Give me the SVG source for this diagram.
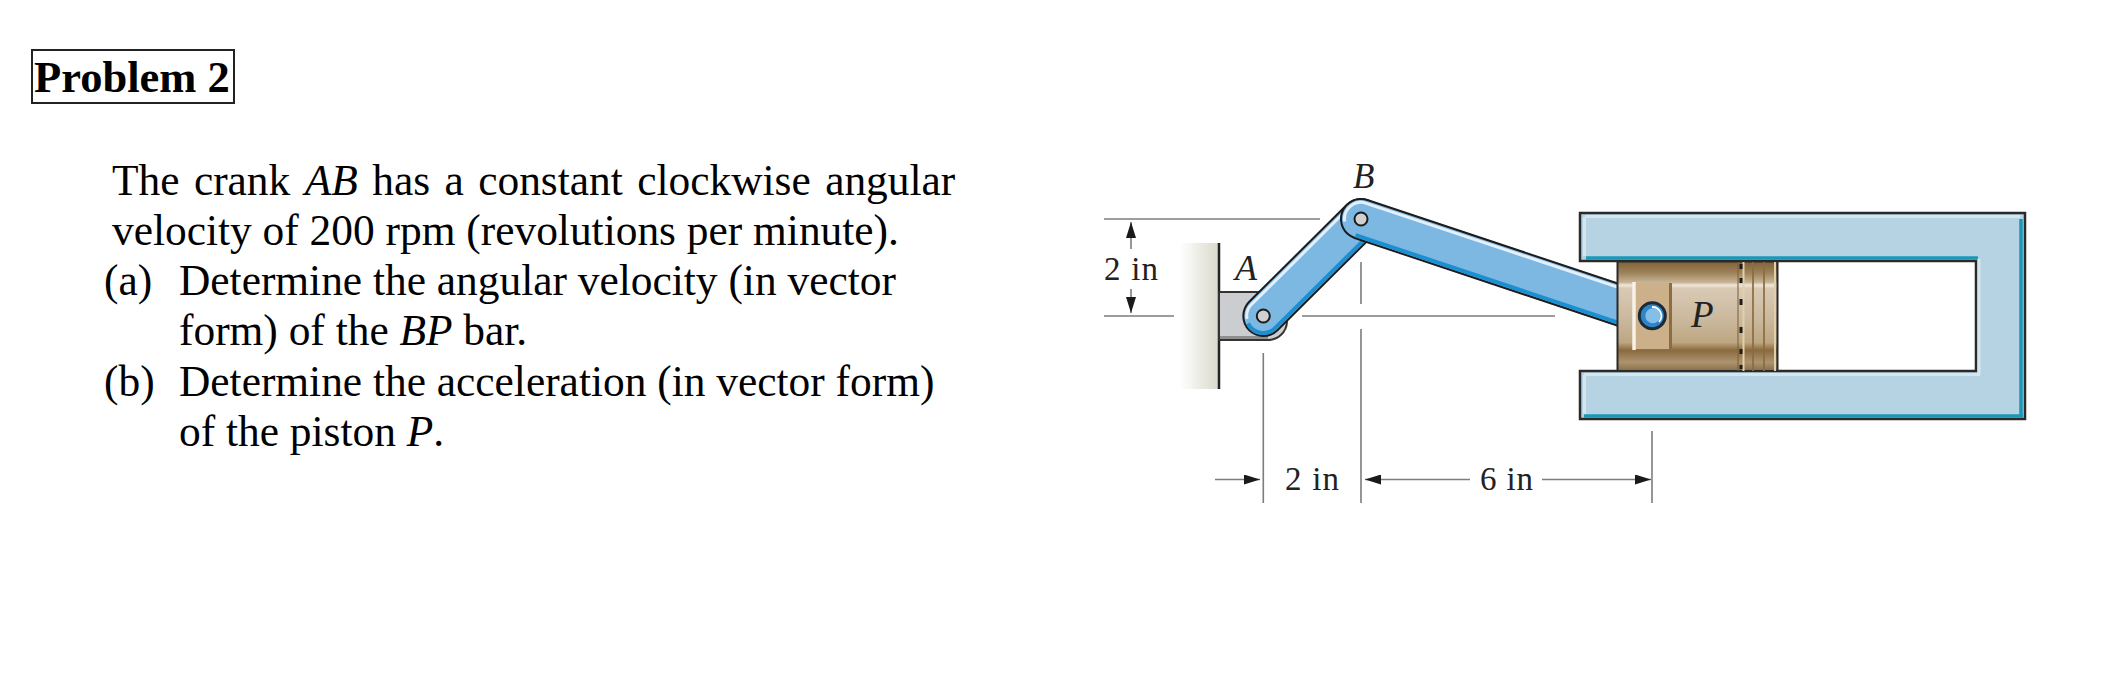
<svg xmlns="http://www.w3.org/2000/svg" width="2110" height="674" viewBox="0 0 2110 674">
<style>
text{font-family:"Liberation Serif","Times New Roman",serif;fill:#000}
.b{font-size:43.4px}
.d{font-size:33px;fill:#222}
.i{font-style:italic}
.dim{stroke:#7d7d7d;stroke-width:1.6;fill:none}
.edge{stroke:#1c1c1c;stroke-width:42;stroke-linecap:round;fill:none}
.fill{stroke:#7db8e3;stroke-width:38;stroke-linecap:round;fill:none}
.hi{stroke:#e4f0f9;stroke-width:3;fill:none}
.lo{stroke:#1d8fd0;stroke-width:4;fill:none}
.hole{fill:#d0d0d0;stroke:#1c1c1c;stroke-width:2}
</style>
<defs>
<marker id="ah" viewBox="0 0 16 10" refX="16" refY="5" markerWidth="16" markerHeight="10" markerUnits="userSpaceOnUse" orient="auto-start-reverse"><path d="M0 0L16 5L0 10Z" fill="#1a1a1a"/></marker>
<linearGradient id="wall" x1="0" x2="1" y1="0" y2="0"><stop offset="0" stop-color="#fff"/><stop offset="1" stop-color="#d9d9cc"/></linearGradient>
<linearGradient id="pist" x1="0" x2="0" y1="0" y2="1">
<stop offset="0" stop-color="#7f6238"/><stop offset=".1" stop-color="#9c8057"/><stop offset=".19" stop-color="#c6b394"/><stop offset=".215" stop-color="#f0e7da"/><stop offset=".245" stop-color="#d9cab5"/><stop offset=".54" stop-color="#c9b89d"/><stop offset=".74" stop-color="#bda680"/><stop offset=".81" stop-color="#8a6a3e"/><stop offset=".92" stop-color="#ac9470"/><stop offset="1" stop-color="#8a6c44"/>
</linearGradient>
</defs>
<g id="title"><rect x="32" y="50" width="202" height="53" fill="#fff" stroke="#222" stroke-width="2"/><text x="34" y="92" font-size="44.5" font-weight="bold">Problem 2</text></g>
<g id="statement">
<text class="b" x="112" y="194.600" word-spacing="3.6">The crank <tspan class="i">AB</tspan> has a constant clockwise angular</text>
<text class="b" x="112" y="244.600">velocity of 200 rpm (revolutions per minute).</text>
<text class="b" x="104" y="294.800">(a)</text><text class="b" x="179" y="294.800">Determine the angular velocity (in vector</text>
<text class="b" x="179" y="345.200">form) of the <tspan class="i">BP</tspan> bar.</text>
<text class="b" x="104" y="395.600">(b)</text><text class="b" x="179" y="395.600">Determine the acceleration (in vector form)</text>
<text class="b" x="179" y="445.800">of the piston <tspan class="i">P</tspan>.</text>
</g>
<g id="connectors">
<path class="dim" d="M1104 219H1320M1104 316H1174M1302 316H1555M1361 262V304M1361 329V503M1263.300 353V503M1652 431V503"/>
<path class="dim" d="M1131 249V222" marker-end="url(#ah)"/>
<path class="dim" d="M1131 289V313" marker-end="url(#ah)"/>
<path class="dim" d="M1215 479.500H1260" marker-end="url(#ah)"/>
<path class="dim" d="M1470 479.500H1365" marker-end="url(#ah)"/>
<path class="dim" d="M1542 479.500H1651" marker-end="url(#ah)"/>
</g>
<g id="wall"><rect x="1180" y="243" width="39" height="146" fill="url(#wall)"/><path d="M1219 243V389" stroke="#222" stroke-width="2.500"/></g>
<g id="bracket"><path d="M1219 292H1262L1287 322A19 19 0 0 1 1268 340H1219Z" fill="#cccdd0" stroke="#333" stroke-width="2"/><path d="M1220 337.500H1268" stroke="#8f8f8f" stroke-width="3"/></g>
<g id="cylinder"><path d="M1580 213H2025V419H1580V371H1976V261H1580Z" fill="#b6d3e3" stroke="#2a2a2a" stroke-width="2.500"/>
<path d="M1586 258H1978M2021 219V416M1584 416H2023" stroke="#1a98b8" stroke-width="3.500" fill="none"/>
<path d="M1585 216.500H2020M1584.500 217V256M1979 259V375M1584 374.500H1980M1584.500 375V414" stroke="#d5e6ef" stroke-width="3" fill="none"/></g>
<g id="crank-ab"><path class="edge" d="M1263.300 316L1361 219"/><path class="fill" d="M1263.300 316L1361 219"/>
<path class="hi" d="M1247 319A16.500 16.500 0 0 1 1251.700 304.300L1349.400 207.300"/><path class="lo" d="M1248 323.500A17 17 0 0 0 1275.300 328L1373 231"/>
<circle class="hole" cx="1263.300" cy="316" r="6.500"/></g>
<g id="bar-bp"><path class="edge" d="M1361 219L1652 316"/><path class="fill" d="M1361 219L1652 316"/>
<path class="hi" d="M1344.700 221.500A16.500 16.500 0 0 1 1366.200 203.300L1657.200 300.300"/><path class="lo" d="M1355.600 235.100L1646.600 332.100"/>
<circle class="hole" cx="1361" cy="219" r="6.500"/></g>
<g id="piston"><rect x="1617.500" y="261.500" width="160" height="109.500" fill="url(#pist)" stroke="#2a2a2a" stroke-width="2"/>
<rect x="1634" y="283" width="36" height="66" fill="#cbb08a"/><path d="M1634 282V350" stroke="#f7f2e8" stroke-width="3.500"/><path d="M1670.500 283V349" stroke="#8c6c40" stroke-width="3"/>
<path d="M1743.500 262V371" stroke="#e3cfa9" stroke-width="2"/><path d="M1738 262V371" stroke="#7f6238" stroke-width="1.500" opacity=".7"/>
<path d="M1741 264V371" stroke="#1c1c1c" stroke-width="3" stroke-dasharray="5 9 5 16 6 22 6 16 5 11 4 99"/>
<path d="M1753 262V371M1764 262V371" stroke="#8c6c40" stroke-width="2" opacity=".85"/>
<path d="M1775 262V371" stroke="#e3cfa9" stroke-width="2"/>
<circle cx="1652.300" cy="315.700" r="13" fill="#2f86c6" stroke="#1c2a38" stroke-width="3"/><circle cx="1652.800" cy="315.700" r="7.500" fill="#85bfe8"/><path d="M1652 307A9 9 0 0 1 1659 322" stroke="#fff" stroke-width="1.800" fill="none"/></g>
<g id="labels">
<text class="d" x="1104" y="279.500" textLength="54">2 in</text>
<text class="d" x="1285" y="490" textLength="54">2 in</text>
<text class="d" x="1480" y="490" textLength="53">6 in</text>
<text class="d i" x="1235" y="280" style="font-size:36px">A</text>
<text class="d i" x="1353" y="188" style="font-size:35px">B</text>
<text class="d i" x="1691" y="327" style="font-size:37px">P</text>
</g>
</svg>
